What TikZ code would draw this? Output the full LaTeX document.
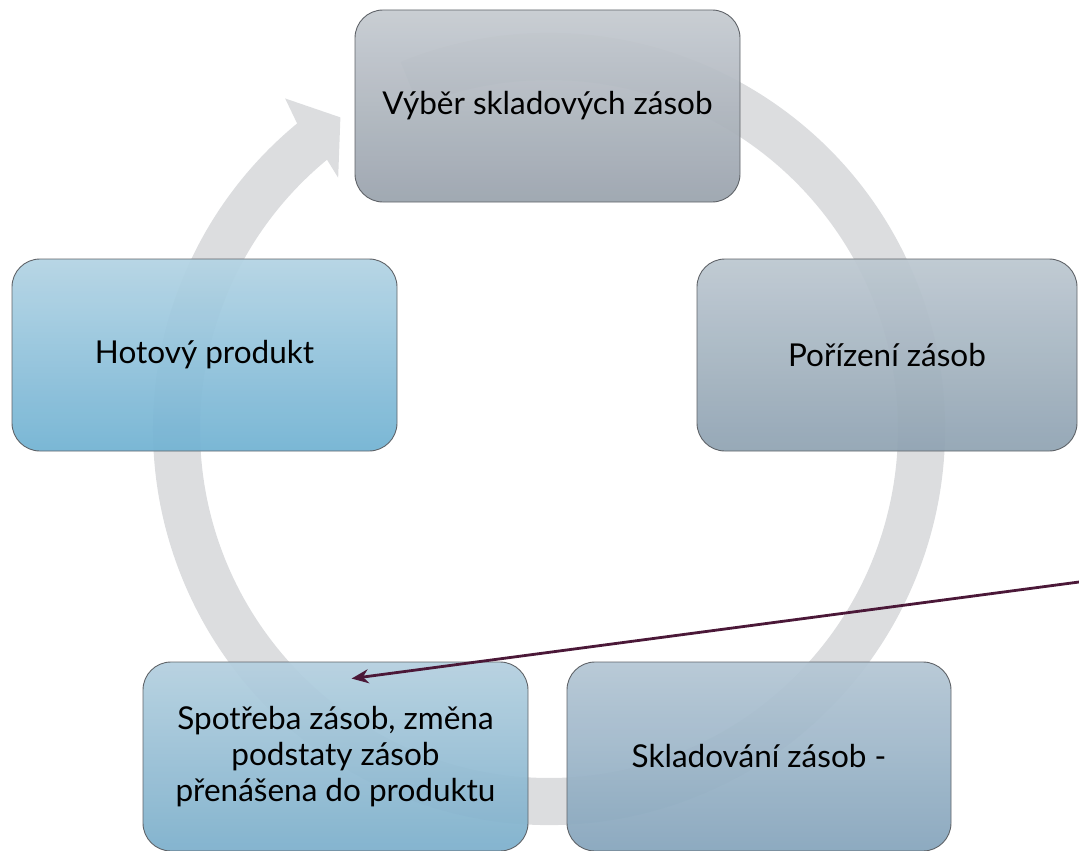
\documentclass[tikz,border=0pt]{standalone}
\usepackage{fontspec}
\setmainfont{Lato}
\usetikzlibrary{arrows.meta,calc}
\definecolor{ringgray}{HTML}{DCDDDF}
\definecolor{edgegray}{HTML}{5F6368}
\definecolor{maroon}{HTML}{4B1838}
\definecolor{topA}{HTML}{C6CBD1}\definecolor{topB}{HTML}{9BA4AE}
\definecolor{rA}{HTML}{BDC8D1}\definecolor{rB}{HTML}{91A4B3}
\definecolor{brA}{HTML}{B5C7D5}\definecolor{brB}{HTML}{87A6BD}
\definecolor{blA}{HTML}{B5D0DF}\definecolor{blB}{HTML}{7EB0CC}
\definecolor{lA}{HTML}{B4D4E4}\definecolor{lB}{HTML}{73B3D3}
\tikzset{
  stagebox/.style={draw=edgegray, line width=0.9pt, rounded corners=28pt,
    fill opacity=0.95, text opacity=1, align=center, inner sep=0pt,
    font=\fontsize{31.5}{36}\selectfont, text=black},
  pointer/.style={draw=maroon, line width=2.8pt, -{Stealth[length=17pt,width=14pt]}}
}
\begin{document}
\begin{tikzpicture}[x=1pt,y=1pt]
\useasboundingbox (0,0) rectangle (1079,-851);
% circular arrow ring
\fill[ringgray, shift={(549,-429)}]
  (112:396) arc[start angle=112, end angle=-230.5, radius=396]
  -- (-231.4:423) -- (-236.2:375) -- (-230:328) -- (-230.5:349)
  arc[start angle=-230.5, end angle=112, radius=349] -- cycle;
% boxes
\node[stagebox, minimum width=385pt, minimum height=192pt, top color=topA, bottom color=topB]
  (vyber) at (547.5,-106) {Výběr skladových zásob};
\node[stagebox, minimum width=380pt, minimum height=192pt, top color=rA, bottom color=rB]
  (porizeni) at (887,-355) {Pořízení zásob};
\node[stagebox, minimum width=384pt, minimum height=189pt, top color=brA, bottom color=brB]
  (sklad) at (759,-756.5) {Skladování zásob -};
\node[stagebox, minimum width=385pt, minimum height=189pt, top color=blA, bottom color=blB]
  (spotreba) at (335.5,-756.5) {Spotřeba zásob, změna\\podstaty zásob\\přenášena do produktu};
\node[stagebox, minimum width=385pt, minimum height=192pt, top color=lA, bottom color=lB]
  (hotovy) at (204.5,-355) {Hotový produkt};
% pointer arrow
\coordinate (src) at (1079,-582);
\coordinate (dst) at ($(spotreba.north west)+(209,-17)$);
\draw[pointer] (src) -- (dst);
\end{tikzpicture}
\end{document}
